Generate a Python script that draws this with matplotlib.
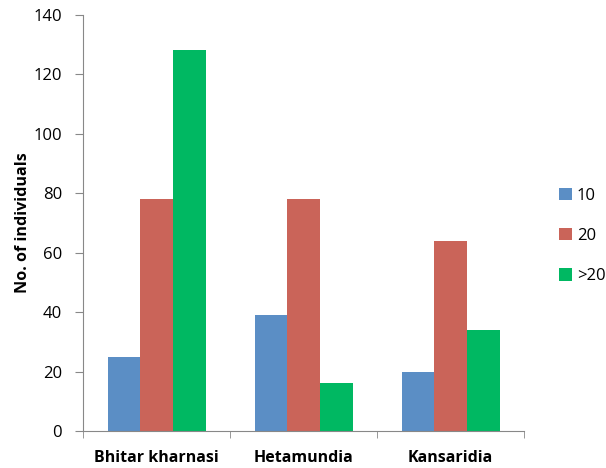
import matplotlib.pyplot as plt
import numpy as np

plt.rcParams['font.family'] = ['Open Sans', 'DejaVu Sans']

# data
sites = ["Bhitar kharnasi", "Hetamundia", "Kansaridia"]
series_names = ["10", "20", ">20"]
vals_10 = [25, 39, 20]
vals_20 = [78, 78, 64]
vals_gt20 = [128, 16, 34]
colors = ["#5B8EC5", "#CA6459", "#00B862"]

fig = plt.figure(figsize=(6.06, 4.68), dpi=100)
ax = fig.add_axes([0.137, 0.079, 0.728, 0.8895])

x = np.arange(len(sites))
w = 0.222
for i, (vals, name) in enumerate(zip([vals_10, vals_20, vals_gt20], series_names)):
    ax.bar(x + (i - 1) * w, vals, w, color=colors[i], label=name)

ax.set_xlim(-0.5, 2.5)
ax.set_ylim(0, 140)
ax.set_yticks(range(0, 141, 20))
ax.set_xticks(x)
ax.set_xticklabels(sites, fontweight='bold', fontsize=11.5)
ax.set_xticks([-0.5, 0.5, 1.5, 2.5], minor=True)
ax.tick_params(axis='x', which='major', length=0, pad=14)
ax.tick_params(axis='x', which='minor', length=5, color='#888888')
ax.tick_params(axis='y', length=6, color='#888888', labelsize=12, pad=9)

for s in ['top', 'right']:
    ax.spines[s].set_visible(False)
for s in ['left', 'bottom']:
    ax.spines[s].set_color('#888888')

ax.set_ylabel("No. of individuals", fontweight='bold', fontsize=11.6, labelpad=2)

ax.legend(loc='center left', bbox_to_anchor=(1.08, 0.468), frameon=False,
          fontsize=12, handlelength=0.75, handleheight=0.75, handletextpad=0.3,
          labelspacing=1.45, borderaxespad=0, borderpad=0)

fig.savefig("out.png", dpi=100)
